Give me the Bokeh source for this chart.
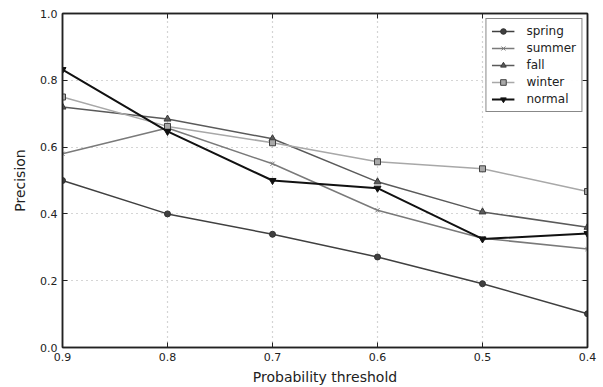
from bokeh.plotting import figure
from bokeh.models import (Range1d, FixedTicker, PrintfTickFormatter, LinearAxis, Legend,
                          LegendItem, CustomJSTickFormatter)
from bokeh.embed import file_html
from bokeh.resources import INLINE

thresholds = [0.9, 0.8, 0.7, 0.6, 0.5, 0.4]
spring = [0.50, 0.40, 0.339, 0.271, 0.191, 0.101]
summer = [0.58, 0.657, 0.55, 0.411, 0.327, 0.295]
fall = [0.72, 0.684, 0.625, 0.496, 0.406, 0.36]
winter = [0.75, 0.662, 0.613, 0.556, 0.535, 0.467]
normal = [0.832, 0.647, 0.50, 0.477, 0.325, 0.341]

x_ticks = [0.9, 0.8, 0.7, 0.6, 0.5, 0.4]
y_ticks = [0.0, 0.2, 0.4, 0.6, 0.8, 1.0]

FONT = "DejaVu Sans"
INK = "#222222"

p = figure(width=603, height=387, output_backend="svg", toolbar_location=None,
           x_range=Range1d(0.9, 0.4), y_range=Range1d(0.0, 1.0),
           min_border_left=62, min_border_right=16, min_border_top=13, min_border_bottom=40)
p.outline_line_color = INK
p.outline_line_width = 1.5

for ax in (p.xaxis[0], p.yaxis[0]):
    ax.major_label_text_font = FONT
    ax.major_label_text_font_size = "11px"
    ax.major_label_text_color = INK
    ax.axis_label_text_font = FONT
    ax.axis_label_text_font_size = "14px"
    ax.axis_label_text_font_style = "normal"
    ax.axis_label_text_color = INK
    ax.axis_line_color = INK
    ax.axis_line_width = 1.5
    ax.major_tick_in = 5
    ax.major_tick_out = 0
    ax.major_tick_line_color = INK
    ax.minor_tick_line_color = None
    ax.major_label_standoff = 5

p.xaxis[0].ticker = FixedTicker(ticks=x_ticks)
p.xaxis[0].formatter = PrintfTickFormatter(format="%.1f")
p.xaxis[0].axis_label = "Probability threshold"
p.xaxis[0].axis_label_standoff = 5
p.yaxis[0].ticker = FixedTicker(ticks=y_ticks)
p.yaxis[0].formatter = PrintfTickFormatter(format="%.1f")
p.yaxis[0].axis_label = "Precision"
p.yaxis[0].axis_label_standoff = 9

for loc, tk in (("above", x_ticks), ("right", y_ticks)):
    ax = LinearAxis(ticker=FixedTicker(ticks=tk), formatter=CustomJSTickFormatter(code="return ''"),
                    major_tick_in=5, major_tick_out=0, minor_tick_line_color=None,
                    axis_line_color=INK, axis_line_width=1.5,
                    major_tick_line_color=INK, major_label_standoff=0)
    p.add_layout(ax, loc)

p.xgrid.ticker = FixedTicker(ticks=x_ticks)
p.ygrid.ticker = FixedTicker(ticks=y_ticks)
p.grid.grid_line_color = "#aaaaaa"
p.grid.grid_line_dash = "1 4"
p.grid.grid_line_width = 1.2

series = [
    ("spring", spring, "#404040", "circle", 6, "#404040", "#303030", 1.5),
    ("summer", summer, "#7a7a7a", "x", 6, "#7a7a7a", "#7a7a7a", 1.5),
    ("fall", fall, "#5a5a5a", "triangle", 7, "#5a5a5a", "#3a3a3a", 1.5),
    ("winter", winter, "#a8a8a8", "square", 6, "#a8a8a8", "#404040", 1.5),
    ("normal", normal, "#111111", "inverted_triangle", 7, "#111111", "#111111", 2),
]

items = []
for name, ys, color, marker, size, fill, edge, lw in series:
    r1 = p.line(thresholds, ys, line_color=color, line_width=lw)
    r2 = p.scatter(thresholds, ys, marker=marker, size=size, fill_color=fill,
                   line_color=edge, line_width=1)
    items.append(LegendItem(label=name, renderers=[r1, r2]))

legend = Legend(items=items, location="top_right", border_line_color="#111111",
                border_line_width=1.5, label_text_font=FONT, label_text_font_size="12px",
                label_text_color=INK, glyph_width=23, glyph_height=14,
                label_height=14, spacing=3, padding=5, margin=5, label_standoff=12)
p.add_layout(legend)

open("out.html", "w").write(file_html(p, INLINE))
